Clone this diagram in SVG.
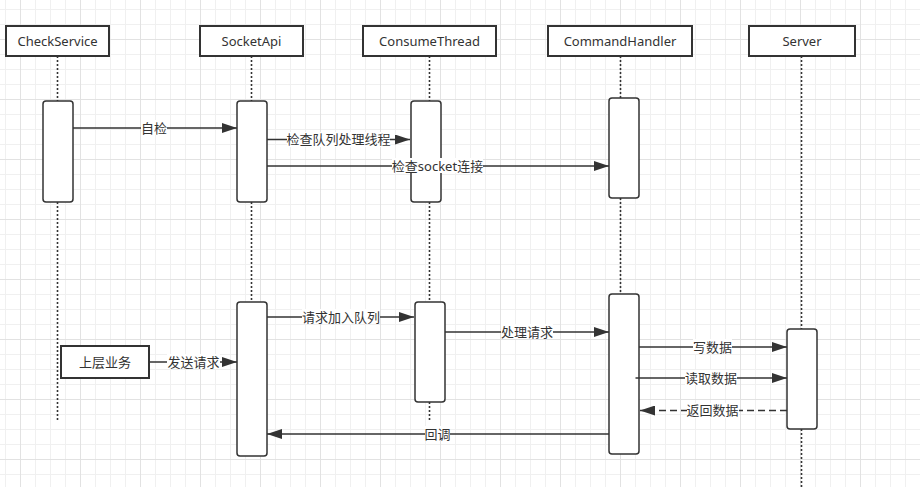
<svg xmlns="http://www.w3.org/2000/svg" width="920" height="487" viewBox="0 0 920 487">
<defs>
<pattern id="grid" x="20" y="39" width="60" height="60" patternUnits="userSpaceOnUse">
<path d="M15.5 0V60M30.5 0V60M45.5 0V60M0 15.5H60M0 30.5H60M0 45.5H60" stroke="#f0f0f0" stroke-width="1" fill="none"/>
<path d="M0.5 0V60M0 0.5H60" stroke="#e2e2e2" stroke-width="1" fill="none"/>
</pattern>
<marker id="arr" markerUnits="userSpaceOnUse" markerWidth="15" markerHeight="10" refX="15" refY="5" orient="auto">
<path d="M0,0 L15,5 L0,10 z" fill="#333"/>
</marker>
<style>
.hdr{fill:#fff;stroke:#333;stroke-width:2}
.act{fill:#fff;stroke:#333;stroke-width:1.5}
.life{stroke:#333;stroke-width:1.6;stroke-dasharray:2 2;fill:none}
.msg{stroke:#333;stroke-width:1.6;fill:none;marker-end:url(#arr)}
.ret{stroke:#333;stroke-width:1.6;fill:none;stroke-dasharray:7 4;marker-end:url(#arr)}
.t{font-family:"Noto Sans","Noto Sans CJK SC",sans-serif;font-size:13px;fill:#333;text-anchor:middle}
.lbg{fill:#fff}
</style>
</defs>
<rect width="920" height="487" fill="#fff"/>
<rect width="920" height="487" fill="url(#grid)"/>

<g id="lifelines">
<path class="life" d="M57.5 56V101M57.5 202V421"/>
<path class="life" d="M251.5 56V101M251.5 202V302"/>
<path class="life" d="M429.5 56V101M429.5 202V302M429.5 402V421"/>
<path class="life" d="M620.5 56V98M620.5 198V294"/>
<path class="life" d="M801.5 56V329M801.5 429V487"/>
</g>

<g id="CheckService">
<rect class="hdr" x="6" y="26" width="103" height="30"/>
<text class="t" x="57.5" y="45.5">CheckService</text>
<rect class="act" x="43" y="101" width="30" height="101" rx="3"/>
</g>
<g id="SocketApi">
<rect class="hdr" x="200" y="26" width="103" height="30"/>
<text class="t" x="251.5" y="45.5">SocketApi</text>
<rect class="act" x="237" y="101" width="30" height="101" rx="3"/>
<rect class="act" x="237" y="302" width="30" height="154" rx="3"/>
</g>
<g id="ConsumeThread">
<rect class="hdr" x="363" y="26" width="133" height="30"/>
<text class="t" x="429.5" y="45.5">ConsumeThread</text>
<rect class="act" x="411" y="101" width="30" height="101" rx="3"/>
<rect class="act" x="415" y="302" width="30" height="100" rx="3"/>
</g>
<g id="CommandHandler">
<rect class="hdr" x="548" y="26" width="144" height="30"/>
<text class="t" x="620" y="45.5">CommandHandler</text>
<rect class="act" x="609" y="98" width="30" height="100" rx="3"/>
<rect class="act" x="609" y="294" width="30" height="160" rx="3"/>
</g>
<g id="Server">
<rect class="hdr" x="749" y="26" width="106" height="30"/>
<text class="t" x="802" y="45.5">Server</text>
<rect class="act" x="787" y="329" width="30" height="100" rx="3"/>
</g>
<g id="UpperBiz">
<rect class="hdr" x="61" y="346" width="88" height="32"/>
<text class="t" x="105" y="366.5">上层业务</text>
</g>

<g id="connectors">
<path class="msg" d="M73 128H237"/>
<rect class="lbg" x="141" y="120" width="26" height="15"/>
<text class="t" x="154" y="132.5">自检</text>

<path class="msg" d="M267 139.5H410"/>
<rect class="lbg" x="287" y="132" width="103" height="15"/>
<text class="t" x="338.5" y="144">检查队列处理线程</text>

<path class="msg" d="M267 166H609"/>
<rect class="lbg" x="392" y="158" width="91" height="15"/>
<text class="t" x="437.5" y="170.5">检查socket连接</text>

<path class="msg" d="M267 317H414"/>
<rect class="lbg" x="302" y="309" width="78" height="15"/>
<text class="t" x="341" y="321.5">请求加入队列</text>

<path class="msg" d="M149 362H237"/>
<rect class="lbg" x="167" y="354" width="53" height="15"/>
<text class="t" x="193.5" y="366.5">发送请求</text>

<path class="msg" d="M445 332H609"/>
<rect class="lbg" x="501" y="324" width="52" height="15"/>
<text class="t" x="527" y="336.5">处理请求</text>

<path class="msg" d="M639 347H787"/>
<rect class="lbg" x="693" y="339" width="39" height="15"/>
<text class="t" x="712.5" y="351.5">写数据</text>

<path class="msg" d="M635.5 378H787"/>
<rect class="lbg" x="685" y="370" width="52" height="15"/>
<text class="t" x="711" y="382.5">读取数据</text>

<path class="ret" d="M787 410.5H640"/>
<rect class="lbg" x="687" y="403" width="52" height="15"/>
<text class="t" x="712.5" y="415">返回数据</text>

<path class="msg" d="M609 434H267"/>
<rect class="lbg" x="425" y="426" width="25" height="15"/>
<text class="t" x="437.5" y="438.5">回调</text>
</g>
</svg>
